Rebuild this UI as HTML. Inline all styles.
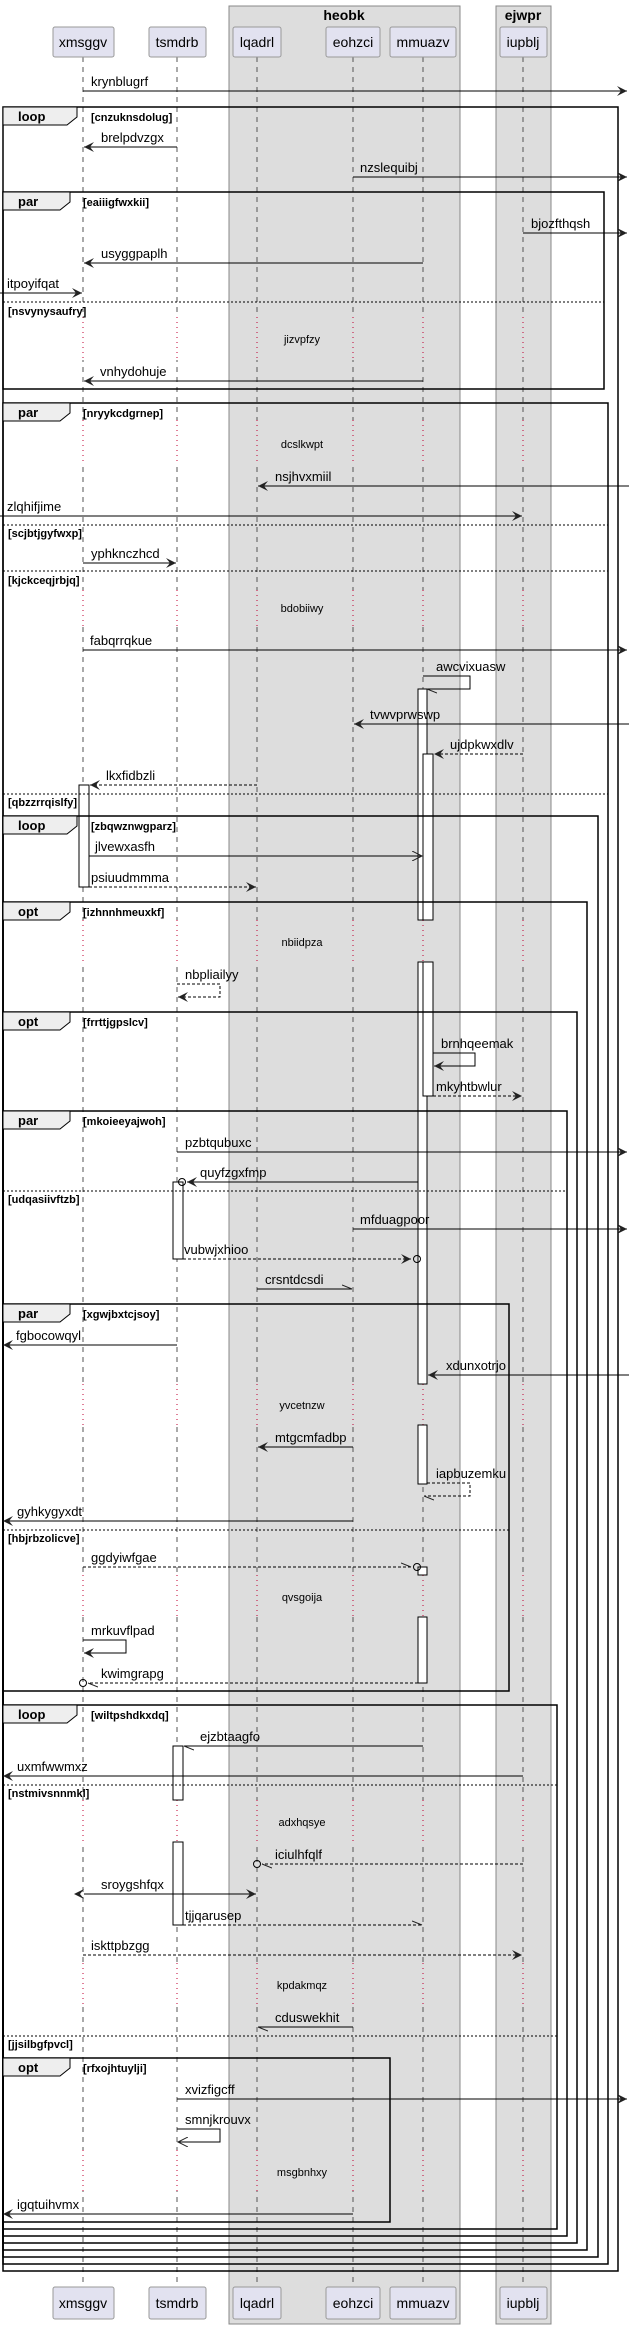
<!DOCTYPE html>
<html><head><meta charset="utf-8"><style>
html,body{margin:0;padding:0;background:#fff}
svg{display:block}
text{font-family:"Liberation Sans",sans-serif}
.m{font-size:13px;fill:#000}
.b{font-size:11px;font-weight:bold;fill:#000}
.t{font-size:13px;font-weight:bold;fill:#000}
.d{font-size:11px;fill:#000}
.p{font-size:14px;fill:#000}
.l{stroke:#000;stroke-width:1;fill:none}
.ds{stroke:#000;stroke-width:1;fill:none;stroke-dasharray:3,2}
.fr{stroke:#000;stroke-width:1.5;fill:none}
.sep{stroke:#000;stroke-width:1;stroke-dasharray:2,2}
.ll{stroke:#555;stroke-width:1;stroke-dasharray:5,5}
.dl{stroke:#c00033;stroke-width:1;stroke-dasharray:1,4}
.act{fill:#fff;stroke:#000;stroke-width:1}
</style></head><body>
<svg width="629" height="2329" viewBox="0 0 629 2329" xmlns="http://www.w3.org/2000/svg">
<defs>
<marker id="f" markerUnits="userSpaceOnUse" markerWidth="12" markerHeight="10" refX="10" refY="5" orient="auto"><path d="M0,0 L10,5 L0,10 L4,5 Z" fill="#222"/></marker>
<marker id="fs" markerUnits="userSpaceOnUse" markerWidth="12" markerHeight="10" refX="0" refY="5" orient="auto-start-reverse"><path d="M0,0 L10,5 L0,10 L4,5 Z" fill="#222"/></marker>
<marker id="o" markerUnits="userSpaceOnUse" markerWidth="12" markerHeight="10" refX="10" refY="5" orient="auto"><path d="M0,0 L10,5 L0,10" fill="none" stroke="#222"/></marker>
<marker id="h" markerUnits="userSpaceOnUse" markerWidth="12" markerHeight="10" refX="10" refY="5" orient="auto"><path d="M0,1 L10,5" fill="none" stroke="#222"/></marker>
<g id="gap"><rect x="79" y="0" width="8" height="1" fill="#fff"/><rect x="173" y="0" width="8" height="1" fill="#fff"/><rect x="253" y="0" width="8" height="1" fill="#ddd"/><rect x="349" y="0" width="8" height="1" fill="#ddd"/><rect x="419" y="0" width="8" height="1" fill="#ddd"/><rect x="519" y="0" width="8" height="1" fill="#ddd"/></g>
</defs>

<rect x="229" y="6" width="231" height="2318" fill="#ddd" stroke="#888"/>
<text x="344" y="20" text-anchor="middle" class="t" style="font-size:14px">heobk</text>
<rect x="496" y="6" width="55" height="2318" fill="#ddd" stroke="#888"/>
<text x="523" y="20" text-anchor="middle" class="t" style="font-size:14px">ejwpr</text>

<g class="ll">
<line x1="83" y1="57" x2="83" y2="2287"/><line x1="177" y1="57" x2="177" y2="2287"/>
<line x1="257" y1="57" x2="257" y2="2287"/><line x1="353" y1="57" x2="353" y2="2287"/>
<line x1="423" y1="57" x2="423" y2="2287"/><line x1="523" y1="57" x2="523" y2="2287"/>
</g>
<use href="#gap" transform="translate(0,317) scale(1,43)"/>
<use href="#gap" transform="translate(0,420) scale(1,42)"/>
<use href="#gap" transform="translate(0,590) scale(1,37)"/>
<use href="#gap" transform="translate(0,920) scale(1,42)"/>
<use href="#gap" transform="translate(0,1384) scale(1,41)"/>
<use href="#gap" transform="translate(0,1575) scale(1,42)"/>
<use href="#gap" transform="translate(0,1800) scale(1,42)"/>
<use href="#gap" transform="translate(0,1963) scale(1,42)"/>
<use href="#gap" transform="translate(0,2150) scale(1,41)"/>
<g class="dl">
<line x1="83" y1="317" x2="83" y2="360"/><line x1="177" y1="317" x2="177" y2="360"/><line x1="257" y1="317" x2="257" y2="360"/><line x1="353" y1="317" x2="353" y2="360"/><line x1="423" y1="317" x2="423" y2="360"/><line x1="523" y1="317" x2="523" y2="360"/>
<line x1="83" y1="420" x2="83" y2="462"/><line x1="177" y1="420" x2="177" y2="462"/><line x1="257" y1="420" x2="257" y2="462"/><line x1="353" y1="420" x2="353" y2="462"/><line x1="423" y1="420" x2="423" y2="462"/><line x1="523" y1="420" x2="523" y2="462"/>
<line x1="83" y1="590" x2="83" y2="627"/><line x1="177" y1="590" x2="177" y2="627"/><line x1="257" y1="590" x2="257" y2="627"/><line x1="353" y1="590" x2="353" y2="627"/><line x1="423" y1="590" x2="423" y2="627"/><line x1="523" y1="590" x2="523" y2="627"/>
<line x1="83" y1="920" x2="83" y2="962"/><line x1="177" y1="920" x2="177" y2="962"/><line x1="257" y1="920" x2="257" y2="962"/><line x1="353" y1="920" x2="353" y2="962"/><line x1="423" y1="920" x2="423" y2="962"/><line x1="523" y1="920" x2="523" y2="962"/>
<line x1="83" y1="1384" x2="83" y2="1425"/><line x1="177" y1="1384" x2="177" y2="1425"/><line x1="257" y1="1384" x2="257" y2="1425"/><line x1="353" y1="1384" x2="353" y2="1425"/><line x1="423" y1="1384" x2="423" y2="1425"/><line x1="523" y1="1384" x2="523" y2="1425"/>
<line x1="83" y1="1575" x2="83" y2="1617"/><line x1="177" y1="1575" x2="177" y2="1617"/><line x1="257" y1="1575" x2="257" y2="1617"/><line x1="353" y1="1575" x2="353" y2="1617"/><line x1="423" y1="1575" x2="423" y2="1617"/><line x1="523" y1="1575" x2="523" y2="1617"/>
<line x1="83" y1="1800" x2="83" y2="1842"/><line x1="177" y1="1800" x2="177" y2="1842"/><line x1="257" y1="1800" x2="257" y2="1842"/><line x1="353" y1="1800" x2="353" y2="1842"/><line x1="423" y1="1800" x2="423" y2="1842"/><line x1="523" y1="1800" x2="523" y2="1842"/>
<line x1="83" y1="1963" x2="83" y2="2005"/><line x1="177" y1="1963" x2="177" y2="2005"/><line x1="257" y1="1963" x2="257" y2="2005"/><line x1="353" y1="1963" x2="353" y2="2005"/><line x1="423" y1="1963" x2="423" y2="2005"/><line x1="523" y1="1963" x2="523" y2="2005"/>
<line x1="83" y1="2150" x2="83" y2="2191"/><line x1="177" y1="2150" x2="177" y2="2191"/><line x1="257" y1="2150" x2="257" y2="2191"/><line x1="353" y1="2150" x2="353" y2="2191"/><line x1="423" y1="2150" x2="423" y2="2191"/><line x1="523" y1="2150" x2="523" y2="2191"/>
</g>
<g class="d" text-anchor="middle">
<text x="302" y="343">jizvpfzy</text><text x="302" y="448">dcslkwpt</text><text x="302" y="612">bdobiiwy</text>
<text x="302" y="946">nbiidpza</text><text x="302" y="1409">yvcetnzw</text><text x="302" y="1601">qvsgoija</text>
<text x="302" y="1826">adxhqsye</text><text x="302" y="1989">kpdakmqz</text><text x="302" y="2176">msgbnhxy</text>
</g>

<g fill="#e2e2f0" stroke="#999">
<rect x="53" y="27" width="61" height="30" rx="2"/><rect x="149" y="27" width="57" height="30" rx="2"/>
<rect x="233" y="27" width="48" height="30" rx="2"/><rect x="326" y="27" width="54" height="30" rx="2"/>
<rect x="390" y="27" width="66" height="30" rx="2"/><rect x="500" y="27" width="47" height="30" rx="2"/>
<rect x="53" y="2287" width="61" height="32" rx="2"/><rect x="149" y="2287" width="57" height="32" rx="2"/>
<rect x="233" y="2287" width="48" height="32" rx="2"/><rect x="326" y="2287" width="54" height="32" rx="2"/>
<rect x="390" y="2287" width="66" height="32" rx="2"/><rect x="500" y="2287" width="47" height="32" rx="2"/>
</g>
<g class="p" text-anchor="middle">
<text x="83" y="47">xmsggv</text><text x="177" y="47">tsmdrb</text><text x="257" y="47">lqadrl</text><text x="353" y="47">eohzci</text><text x="423" y="47">mmuazv</text><text x="523" y="47">iupblj</text>
<text x="83" y="2308">xmsggv</text><text x="177" y="2308">tsmdrb</text><text x="257" y="2308">lqadrl</text><text x="353" y="2308">eohzci</text><text x="423" y="2308">mmuazv</text><text x="523" y="2308">iupblj</text>
</g>

<rect class="act" x="418" y="689" width="9" height="231"/>
<rect class="act" x="418" y="962" width="9" height="422"/>
<rect class="act" x="418" y="1425" width="9" height="59"/>
<rect class="act" x="423" y="754" width="10" height="166"/>
<rect class="act" x="423" y="962" width="10" height="134"/>
<rect class="act" x="79" y="785" width="10" height="102"/>
<rect class="act" x="173" y="1182" width="10" height="77"/>
<rect class="act" x="418" y="1567" width="9" height="8"/>
<rect class="act" x="418" y="1617" width="9" height="66"/>
<rect class="act" x="173" y="1746" width="10" height="54"/>
<rect class="act" x="173" y="1842" width="10" height="83"/>

<g class="fr">
<rect x="3" y="107" width="615" height="2164"/>
<rect x="3" y="192" width="601" height="197"/>
<rect x="3" y="403" width="605" height="1861"/>
<rect x="3" y="816" width="595" height="1441"/>
<rect x="3" y="902" width="584" height="1348"/>
<rect x="3" y="1012" width="574" height="1231"/>
<rect x="3" y="1111" width="564" height="1125"/>
<rect x="3" y="1304" width="506" height="387"/>
<rect x="3" y="1705" width="554" height="524"/>
<rect x="3" y="2058" width="387" height="164"/>
</g>
<g fill="#eee" stroke="#000" stroke-width="1">
<path d="M3,107 H77 V117 L67,125 H3 Z"/>
<path d="M3,192 H70 V202 L60,210 H3 Z"/>
<path d="M3,403 H70 V413 L60,421 H3 Z"/>
<path d="M3,816 H77 V826 L67,834 H3 Z"/>
<path d="M3,902 H70 V912 L60,920 H3 Z"/>
<path d="M3,1012 H70 V1022 L60,1030 H3 Z"/>
<path d="M3,1111 H70 V1121 L60,1129 H3 Z"/>
<path d="M3,1304 H70 V1314 L60,1322 H3 Z"/>
<path d="M3,1705 H77 V1715 L67,1723 H3 Z"/>
<path d="M3,2058 H70 V2068 L60,2076 H3 Z"/>
</g>
<g class="t">
<text x="18" y="121">loop</text><text x="18" y="206">par</text><text x="18" y="417">par</text>
<text x="18" y="830">loop</text><text x="18" y="916">opt</text><text x="18" y="1026">opt</text>
<text x="18" y="1125">par</text><text x="18" y="1318">par</text><text x="18" y="1719">loop</text><text x="18" y="2072">opt</text>
</g>
<g class="b">
<text x="91" y="121">[cnzuknsdolug]</text><text x="83" y="206">[eaiiigfwxkii]</text><text x="83" y="417">[nryykcdgrnep]</text>
<text x="91" y="830">[zbqwznwgparz]</text><text x="83" y="916">[izhnnhmeuxkf]</text><text x="83" y="1026">[frrttjgpslcv]</text>
<text x="83" y="1125">[mkoieeyajwoh]</text><text x="83" y="1318">[xgwjbxtcjsoy]</text><text x="91" y="1719">[wiltpshdkxdq]</text><text x="83" y="2072">[rfxojhtuylji]</text>
<text x="8" y="315">[nsvynysaufry]</text><text x="8" y="537">[scjbtjgyfwxp]</text><text x="8" y="584">[kjckceqjrbjq]</text>
<text x="8" y="806">[qbzzrrqislfy]</text><text x="8" y="1203">[udqasiivftzb]</text><text x="8" y="1542">[hbjrbzolicve]</text>
<text x="8" y="1797">[nstmivsnnmkl]</text><text x="8" y="2048">[jjsilbgfpvcl]</text>
</g>
<g class="sep">
<line x1="3" y1="302" x2="604" y2="302"/><line x1="3" y1="525" x2="608" y2="525"/><line x1="3" y1="571" x2="608" y2="571"/>
<line x1="3" y1="794" x2="608" y2="794"/><line x1="3" y1="1191" x2="567" y2="1191"/><line x1="3" y1="1530" x2="509" y2="1530"/>
<line x1="3" y1="1785" x2="557" y2="1785"/><line x1="3" y1="2036" x2="557" y2="2036"/>
</g>

<g>
<line class="l" x1="83" y1="91" x2="627" y2="91" marker-end="url(#f)"/>
<line class="l" x1="177" y1="147" x2="84" y2="147" marker-end="url(#f)"/>
<line class="l" x1="353" y1="177" x2="627" y2="177" marker-end="url(#f)"/>
<line class="l" x1="523" y1="233" x2="627" y2="233" marker-end="url(#f)"/>
<line class="l" x1="423" y1="263" x2="84" y2="263" marker-end="url(#f)"/>
<line class="l" x1="0" y1="293" x2="82" y2="293" marker-end="url(#f)"/>
<line class="l" x1="423" y1="381" x2="84" y2="381" marker-end="url(#f)"/>
<line class="l" x1="629" y1="486" x2="258" y2="486" marker-end="url(#f)"/>
<line class="l" x1="0" y1="516" x2="522" y2="516" marker-end="url(#f)"/>
<line class="l" x1="83" y1="563" x2="176" y2="563" marker-end="url(#f)"/>
<line class="l" x1="83" y1="650" x2="627" y2="650" marker-end="url(#f)"/>
<polyline class="l" points="423,676 470,676 470,689 427,689" marker-end="url(#h)"/>
<line class="l" x1="629" y1="724" x2="354" y2="724" marker-end="url(#f)"/>
<line class="ds" x1="523" y1="754" x2="434" y2="754" marker-end="url(#f)"/>
<line class="ds" x1="257" y1="785" x2="90" y2="785" marker-end="url(#f)"/>
<line class="l" x1="89" y1="856" x2="422" y2="856" marker-end="url(#o)"/>
<line class="ds" x1="89" y1="887" x2="256" y2="887" marker-end="url(#f)"/>
<polyline class="ds" points="177,984 220,984 220,997 178,997" marker-end="url(#f)"/>
<polyline class="l" points="433,1053 475,1053 475,1066 434,1066" marker-end="url(#f)"/>
<line class="ds" x1="433" y1="1096" x2="522" y2="1096" marker-end="url(#f)"/>
<line class="l" x1="177" y1="1152" x2="627" y2="1152" marker-end="url(#f)"/>
<line class="l" x1="418" y1="1182" x2="187" y2="1182" marker-end="url(#f)"/>
<circle cx="182" cy="1182" r="3.5" fill="none" stroke="#000"/>
<line class="l" x1="353" y1="1229" x2="627" y2="1229" marker-end="url(#f)"/>
<line class="ds" x1="183" y1="1259" x2="411" y2="1259" marker-end="url(#f)"/>
<circle cx="417" cy="1259" r="3.5" fill="none" stroke="#000"/>
<line class="l" x1="257" y1="1289" x2="352" y2="1289" marker-end="url(#h)"/>
<line class="l" x1="177" y1="1345" x2="3" y2="1345" marker-end="url(#f)"/>
<line class="l" x1="629" y1="1375" x2="428" y2="1375" marker-end="url(#f)"/>
<line class="l" x1="353" y1="1447" x2="258" y2="1447" marker-end="url(#f)"/>
<polyline class="ds" points="427,1483 470,1483 470,1496 424,1496" marker-end="url(#h)"/>
<line class="l" x1="353" y1="1521" x2="3" y2="1521" marker-end="url(#f)"/>
<line class="ds" x1="83" y1="1567" x2="411" y2="1567" marker-end="url(#h)"/>
<circle cx="417" cy="1567" r="3.5" fill="none" stroke="#000"/>
<polyline class="l" points="83,1640 126,1640 126,1653 84,1653" marker-end="url(#f)"/>
<line class="ds" x1="418" y1="1683" x2="88" y2="1683" marker-end="url(#h)"/>
<circle cx="83" cy="1683" r="3.5" fill="none" stroke="#000"/>
<line class="l" x1="423" y1="1746" x2="184" y2="1746" marker-end="url(#h)"/>
<line class="l" x1="523" y1="1776" x2="3" y2="1776" marker-end="url(#f)"/>
<line class="ds" x1="523" y1="1864" x2="262" y2="1864" marker-end="url(#h)"/>
<circle cx="257" cy="1864" r="3.5" fill="none" stroke="#000"/>
<line class="l" x1="84" y1="1894" x2="256" y2="1894" marker-start="url(#fs)" marker-end="url(#f)"/>
<line class="ds" x1="183" y1="1925" x2="422" y2="1925" marker-end="url(#h)"/>
<line class="ds" x1="83" y1="1955" x2="522" y2="1955" marker-end="url(#f)"/>
<line class="l" x1="353" y1="2027" x2="258" y2="2027" marker-end="url(#h)"/>
<line class="l" x1="177" y1="2099" x2="627" y2="2099" marker-end="url(#f)"/>
<polyline class="l" points="177,2129 220,2129 220,2142 178,2142" marker-end="url(#o)"/>
<line class="l" x1="353" y1="2214" x2="3" y2="2214" marker-end="url(#f)"/>
</g>
<g class="m">
<text x="91" y="86">krynblugrf</text>
<text x="101" y="142">brelpdvzgx</text>
<text x="360" y="172">nzslequibj</text>
<text x="531" y="228">bjozfthqsh</text>
<text x="101" y="258">usyggpaplh</text>
<text x="7" y="288">itpoyifqat</text>
<text x="100" y="376">vnhydohuje</text>
<text x="275" y="481">nsjhvxmiil</text>
<text x="7" y="511">zlqhifjime</text>
<text x="91" y="558">yphknczhcd</text>
<text x="90" y="645">fabqrrqkue</text>
<text x="436" y="671">awcvixuasw</text>
<text x="370" y="719">tvwvprwswp</text>
<text x="450" y="749">ujdpkwxdlv</text>
<text x="106" y="780">lkxfidbzli</text>
<text x="95" y="851">jlvewxasfh</text>
<text x="91" y="882">psiuudmmma</text>
<text x="185" y="979">nbpliailyy</text>
<text x="441" y="1048">brnhqeemak</text>
<text x="436" y="1091">mkyhtbwlur</text>
<text x="185" y="1147">pzbtqubuxc</text>
<text x="200" y="1177">quyfzgxfmp</text>
<text x="360" y="1224">mfduagpoor</text>
<text x="184" y="1254">vubwjxhioo</text>
<text x="265" y="1284">crsntdcsdi</text>
<text x="16" y="1340">fgbocowqyl</text>
<text x="446" y="1370">xdunxotrjo</text>
<text x="275" y="1442">mtgcmfadbp</text>
<text x="436" y="1478">iapbuzemku</text>
<text x="17" y="1516">gyhkygyxdt</text>
<text x="91" y="1562">ggdyiwfgae</text>
<text x="91" y="1635">mrkuvflpad</text>
<text x="101" y="1678">kwimgrapg</text>
<text x="200" y="1741">ejzbtaagfo</text>
<text x="17" y="1771">uxmfwwmxz</text>
<text x="275" y="1859">iciulhfqlf</text>
<text x="101" y="1889">sroygshfqx</text>
<text x="185" y="1920">tjjqarusep</text>
<text x="91" y="1950">iskttpbzgg</text>
<text x="275" y="2022">cduswekhit</text>
<text x="185" y="2094">xvizfigcff</text>
<text x="185" y="2124">smnjkrouvx</text>
<text x="17" y="2209">igqtuihvmx</text>
</g>
</svg>
</body></html>
